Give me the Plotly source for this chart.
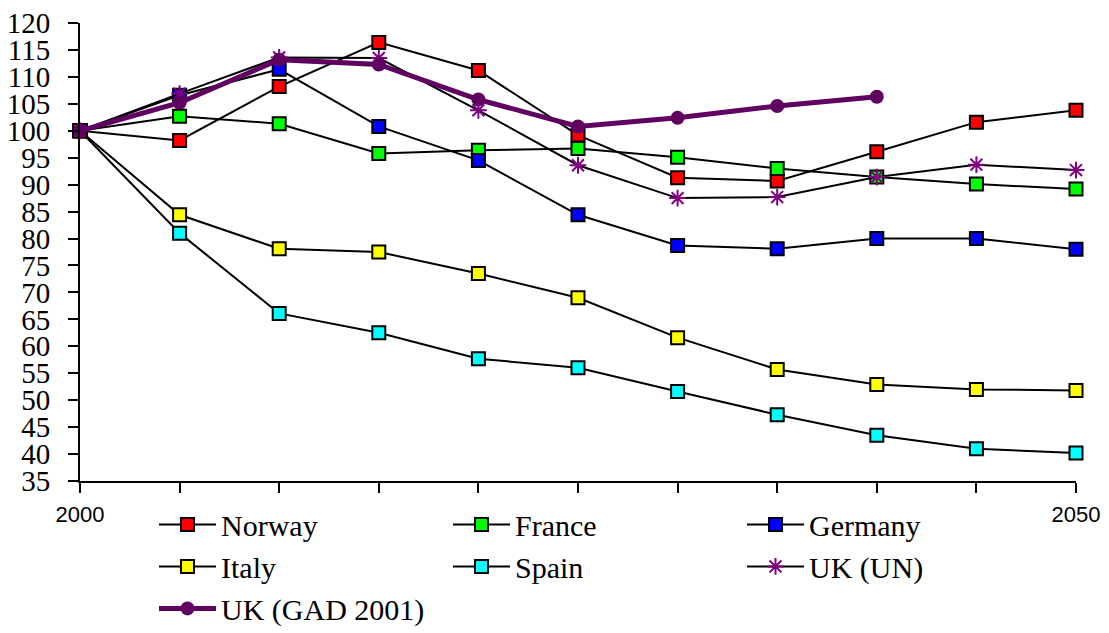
import plotly.graph_objects as go

years = [2000, 2005, 2010, 2015, 2020, 2025, 2030, 2035, 2040, 2045, 2050]
norway = [100, 98.2, 108.2, 116.4, 111.2, 99.2, 91.3, 90.7, 96.1, 101.6, 103.8]
france = [100, 102.7, 101.3, 95.8, 96.4, 96.7, 95.1, 93.0, 91.4, 90.1, 89.2]
germany = [100, 106.6, 111.4, 100.8, 94.5, 84.4, 78.7, 78.1, 80.0, 80.0, 78.0]
italy = [100, 84.4, 78.1, 77.5, 73.5, 69.0, 61.6, 55.7, 52.9, 52.0, 51.8]
spain = [100, 81.0, 66.1, 62.5, 57.7, 56.0, 51.6, 47.3, 43.5, 41.0, 40.2]
uk_un = [100, 106.9, 113.6, 113.5, 103.8, 93.6, 87.5, 87.7, 91.4, 93.7, 92.7]
gad_years = [2000, 2005, 2010, 2015, 2020, 2025, 2030, 2035, 2040]
uk_gad = [100, 105.2, 113.2, 112.3, 105.8, 100.8, 102.4, 104.6, 106.3]

x_tick_vals = list(range(2000, 2051, 5))
x_tick_text = ["2000"] + [""] * 9 + ["2050"]
y_tick_vals = list(range(35, 121, 5))

fig = go.Figure()

square_series = [
    ("Norway", norway, "#ff0000"),
    ("France", france, "#00ff00"),
    ("Germany", germany, "#0000ff"),
    ("Italy", italy, "#ffff00"),
    ("Spain", spain, "#00ffff"),
]
for name, vals, col in square_series:
    fig.add_trace(go.Scatter(
        x=years, y=vals, name=name, mode="lines+markers",
        line=dict(color="black", width=2),
        marker=dict(symbol="square", size=13, color=col,
                    line=dict(color="black", width=2)),
        cliponaxis=False,
    ))

fig.add_trace(go.Scatter(
    x=years, y=uk_un, name="UK (UN)", mode="lines+markers",
    line=dict(color="black", width=2),
    marker=dict(symbol="asterisk-open", size=14, color="#800080",
                line=dict(color="#800080", width=2)),
    cliponaxis=False,
))

fig.add_trace(go.Scatter(
    x=gad_years, y=uk_gad, name="UK (GAD 2001)", mode="lines+markers",
    line=dict(color="#600060", width=5),
    marker=dict(symbol="circle", size=14, color="#600060"),
    cliponaxis=False,
))

serif = "Liberation Serif, Times New Roman, serif"

fig.update_layout(
    width=1109, height=633,
    margin=dict(l=80, r=33, t=23, b=152, autoexpand=False),
    paper_bgcolor="white", plot_bgcolor="white",
    font=dict(family=serif, size=30, color="black"),
    showlegend=True,
    legend=dict(
        orientation="h", x=0.0743, y=-0.038, xanchor="left", yanchor="top",
        entrywidth=222, entrywidthmode="pixels", itemwidth=57,
        font=dict(family=serif, size=30, color="black"),
        bgcolor="rgba(0,0,0,0)", traceorder="normal",
    ),
    xaxis=dict(
        range=[2000, 2050], tickvals=x_tick_vals, ticktext=x_tick_text,
        ticks="outside", ticklen=10, tickwidth=2, tickcolor="black",
        showline=True, linecolor="black", linewidth=2,
        showgrid=False, zeroline=False,
        tickfont=dict(family="Liberation Sans, Arial, sans-serif", size=22),
        ticklabelstandoff=3,
    ),
    yaxis=dict(
        range=[35, 120], tickvals=y_tick_vals,
        ticks="outside", ticklen=10, tickwidth=2, tickcolor="black",
        showline=True, linecolor="black", linewidth=2,
        showgrid=False, zeroline=False,
        tickfont=dict(family=serif, size=29),
        ticklabelstandoff=12,
    ),
    xaxis2=dict(
        range=[2000, 2050], overlaying="x", anchor="y", side="bottom",
        tickvals=x_tick_vals, ticktext=[""] * len(x_tick_vals),
        ticks="inside", ticklen=10, tickwidth=2, tickcolor="black",
        showline=False, showgrid=False, zeroline=False,
    ),
    yaxis2=dict(
        range=[35, 120], overlaying="y", anchor="x", side="left",
        tickvals=y_tick_vals, ticktext=[""] * len(y_tick_vals),
        ticks="inside", ticklen=10, tickwidth=2, tickcolor="black",
        showline=False, showgrid=False, zeroline=False,
    ),
)

fig.write_html("out.html", post_script="document.body.style.margin='0';",
               config={"displayModeBar": False})
